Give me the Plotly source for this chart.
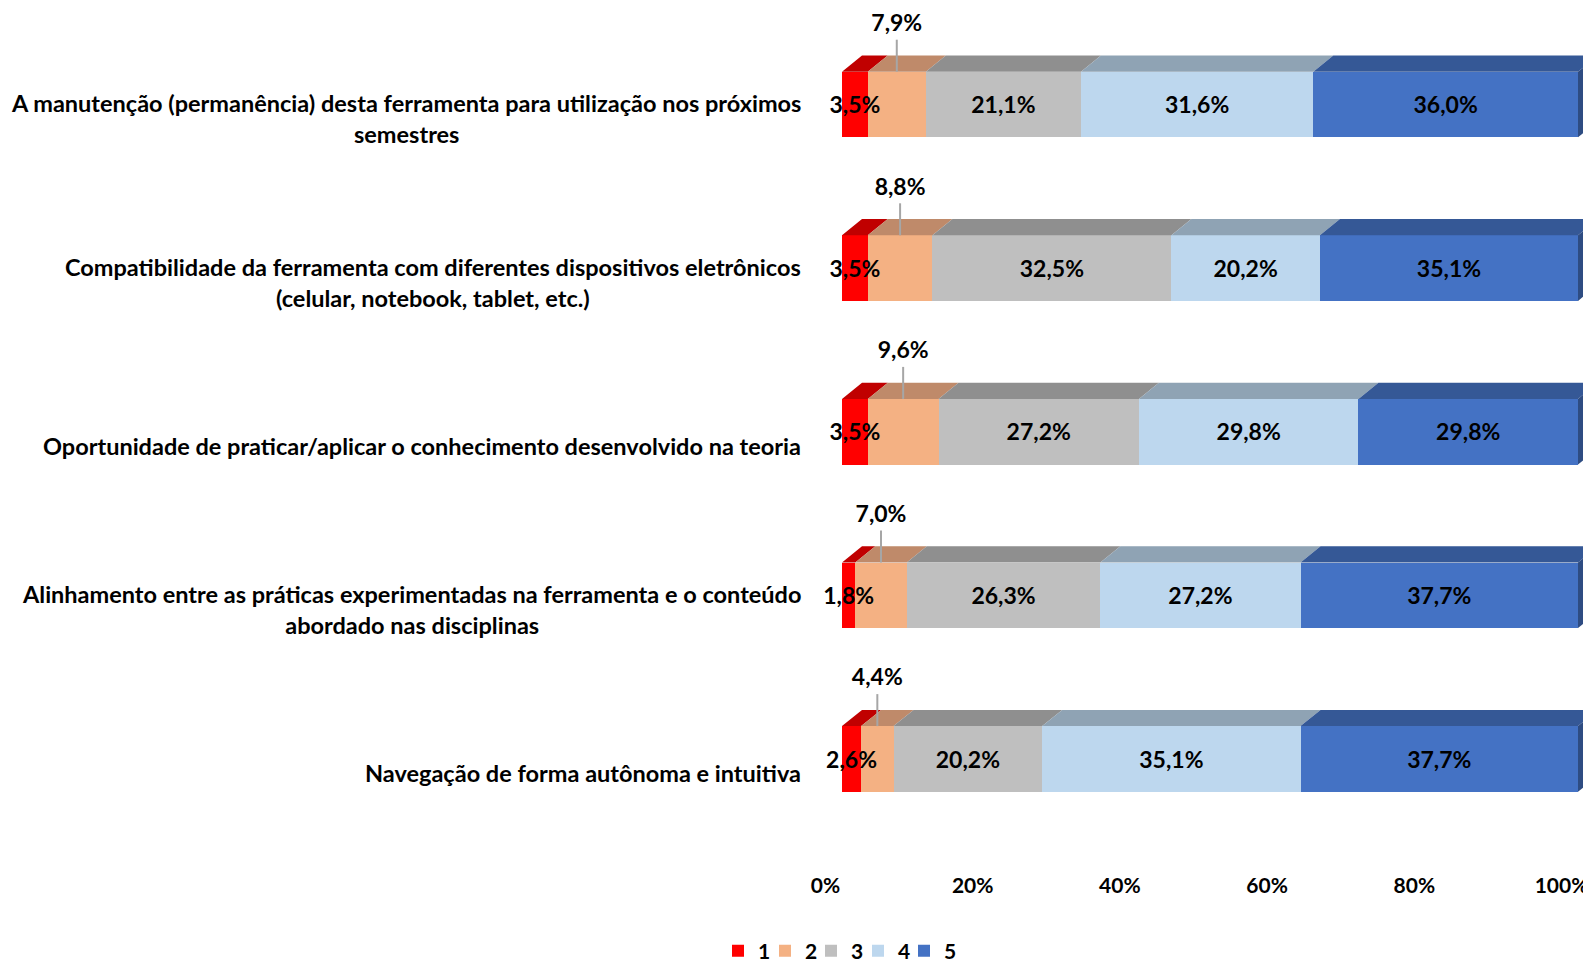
import plotly.graph_objects as go

categories = [
    "A manutenção (permanência) desta ferramenta para utilização nos próximos<br>semestres",
    "Compatibilidade da ferramenta com diferentes dispositivos eletrônicos<br>(celular, notebook, tablet, etc.)",
    "Oportunidade de praticar/aplicar o conhecimento desenvolvido na teoria",
    "Alinhamento entre as práticas experimentadas na ferramenta e o conteúdo<br>abordado nas disciplinas",
    "Navegação de forma autônoma e intuitiva",
]
series_names = ["1", "2", "3", "4", "5"]
s1 = [3.5, 3.5, 3.5, 1.8, 2.6]
s2 = [7.9, 8.8, 9.6, 7.0, 4.4]
s3 = [21.1, 32.5, 27.2, 26.3, 20.2]
s4 = [31.6, 20.2, 29.8, 27.2, 35.1]
s5 = [36.0, 35.1, 29.8, 37.7, 37.7]
tick_values = [0, 20, 40, 60, 80, 100]
tick_labels = ["0%", "20%", "40%", "60%", "80%", "100%"]

series = [s1, s2, s3, s4, s5]
front_colors = ["#FF0000", "#F4B183", "#BFBFBF", "#BDD7EE", "#4472C4"]
top_colors = ["#C00000", "#BF8A6A", "#8F8F8F", "#8FA3B4", "#355896"]
side_color = "#2E4C82"

FONT = "Lato, Open Sans, sans-serif"
W, H = 1583, 964
ZERO_PX = 842          # pixel of 0% on the front faces
LEFT_PAD = 40          # plot area extends this far left of 0%
ML, MR, MT, MB = ZERO_PX - LEFT_PAD, 0, 0, 100
plot_w = W - ML - MR
plot_h = H - MT - MB
px_per_x = 736.0 / 100.0
xmin = -LEFT_PAD / px_per_x
xmax = xmin + plot_w / px_per_x
px_per_y = 163.6
n = len(categories)
ypos = list(range(n - 1, -1, -1))
ytop = (n - 1) + 104.5 / px_per_y
ybot = ytop - plot_h / px_per_y
bar_w = 65.6 / px_per_y
dx = 20.0 / px_per_x
dy = 16.2 / px_per_y
tick_shift = 16.5 / px_per_x
text_drop = 3.0 / px_per_y
legend_left_px = [718, 765, 811, 858, 904]
legend_center_px = 951

def fmt(v):
    return ("%.1f%%" % v).replace(".", ",")

# normalised cumulative values (100% stacked)
totals = [sum(s[i] for s in series) for i in range(n)]
norm = [[s[i] / totals[i] * 100 for i in range(n)] for s in series]

fig = go.Figure()

# top faces (drawn first)
for k in range(len(series)):
    xs, ys = [], []
    for i in range(n):
        x0 = sum(norm[j][i] for j in range(k))
        x1 = x0 + norm[k][i]
        yt = ypos[i] + bar_w / 2
        xs += [x0, x1, x1 + dx, x0 + dx, x0, None]
        ys += [yt, yt, yt + dy, yt + dy, yt, None]
    fig.add_trace(go.Scatter(x=xs, y=ys, mode="lines", fill="toself",
                             fillcolor=top_colors[k], line=dict(width=0),
                             showlegend=False, hoverinfo="skip"))

# right side face of last segment
xs, ys = [], []
for i in range(n):
    x1 = sum(norm[j][i] for j in range(len(series)))
    yt = ypos[i] + bar_w / 2
    yb = ypos[i] - bar_w / 2
    xs += [x1, x1 + dx, x1 + dx, x1, x1, None]
    ys += [yb, yb + dy, yt + dy, yt, yb, None]
fig.add_trace(go.Scatter(x=xs, y=ys, mode="lines", fill="toself",
                         fillcolor=side_color, line=dict(width=0),
                         showlegend=False, hoverinfo="skip"))

# front faces
legend_ids = ["legend"] + ["legend%d" % (k + 1) for k in range(1, len(series))]
for k, s in enumerate(series):
    fig.add_trace(go.Bar(x=s, y=ypos, orientation="h", width=bar_w,
                         name=series_names[k], legend=legend_ids[k],
                         marker=dict(color=front_colors[k], line=dict(width=0)),
                         hoverinfo="x"))

# value labels
for k in range(len(series)):
    tx, ty, tt = [], [], []
    lx, ly = [], []
    for i in range(n):
        x0 = sum(norm[j][i] for j in range(k))
        xc = x0 + norm[k][i] / 2
        if k == 1:
            yt = ypos[i] + bar_w / 2
            tx.append(xc)
            ty.append(yt + 49.5 / px_per_y - text_drop)
            lx += [xc, xc, None]
            ly += [yt + 32 / px_per_y, yt, None]
        else:
            tx.append(xc)
            ty.append(ypos[i] - text_drop)
        tt.append(fmt(series[k][i]))
    if lx:
        fig.add_trace(go.Scatter(x=lx, y=ly, mode="lines",
                                 line=dict(color="#A6A6A6", width=2),
                                 showlegend=False, hoverinfo="skip"))
    fig.add_trace(go.Scatter(x=tx, y=ty, mode="text", text=tt,
                             textfont=dict(family=FONT, size=23, color="#000000", weight="bold"),
                             textposition="middle center", cliponaxis=False,
                             showlegend=False, hoverinfo="skip"))

# dummy trace for tick axis
fig.add_trace(go.Scatter(x=[None], y=[None], xaxis="x2", showlegend=False, hoverinfo="skip"))

# category labels
for i in range(n):
    fig.add_annotation(x=0, y=ypos[i], xref="x", yref="y", text=categories[i],
                       showarrow=False, xanchor="right", yanchor="middle",
                       align="center", xshift=-39, yshift=-14,
                       font=dict(family=FONT, size=23.5, color="#000000", weight="bold"))

legend_layout = {}
for k, lid in enumerate(legend_ids):
    legend_layout[lid] = dict(
        orientation="h", xref="container", yref="paper",
        x=legend_left_px[k] / W, y=-(legend_center_px - plot_h) / plot_h,
        xanchor="left", yanchor="middle",
        bgcolor="rgba(0,0,0,0)", borderwidth=0, itemwidth=30,
        font=dict(family=FONT, size=21, color="#000000", weight="bold"))

fig.update_layout(
    width=W, height=H,
    margin=dict(l=ML, r=MR, t=MT, b=MB, autoexpand=False),
    barmode="stack", barnorm="percent",
    plot_bgcolor="white", paper_bgcolor="white",
    font=dict(family=FONT, size=21, color="#000000"),
    xaxis=dict(range=[xmin, xmax], showticklabels=False, showgrid=False,
               zeroline=False, showline=False, fixedrange=True),
    xaxis2=dict(overlaying="x", anchor="y", side="bottom",
                range=[xmin + tick_shift, xmax + tick_shift],
                tickmode="array", tickvals=tick_values, ticktext=tick_labels,
                showgrid=False, zeroline=False, showline=False, ticks="",
                ticklabelstandoff=7, ticklabeloverflow="allow",
                tickfont=dict(family=FONT, size=21, color="#000000", weight="bold")),
    yaxis=dict(range=[ybot, ytop], showticklabels=False, showgrid=False,
               zeroline=False, showline=False, fixedrange=True),
    showlegend=True,
    **legend_layout,
)

fig.write_html("out.html", config={"displayModeBar": False},
               post_script="document.body.style.margin='0';document.body.style.overflow='hidden';")
